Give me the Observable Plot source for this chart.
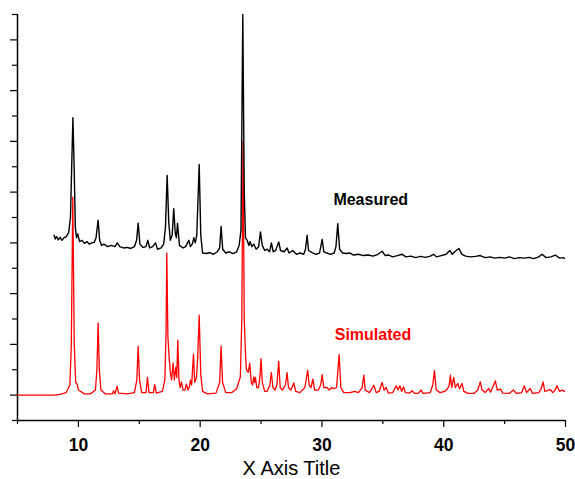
<!DOCTYPE html>
<html>
<head>
<meta charset="utf-8">
<script src="https://cdn.jsdelivr.net/npm/d3@7"></script>
<script src="https://cdn.jsdelivr.net/npm/@observablehq/plot@0.6"></script>
<style>
  html, body { margin: 0; padding: 0; background: #fff; }
  #chart svg { display: block; }
</style>
</head>
<body>
<div id="chart"></div>
<script>
// Measured pattern: vertices (2θ, intensity in arbitrary units, offset baseline)
const measuredX = [8.0,8.1,8.2,8.35,8.5,8.65,8.8,9.0,9.2,9.35,9.45,9.55,9.65,9.75,9.85,9.95,10.1,10.3,10.5,10.7,10.9,11.1,11.3,11.45,11.62,11.75,11.9,12.1,12.4,12.7,13.0,13.2,13.4,13.7,14.0,14.3,14.6,14.78,14.91,15.05,15.3,15.55,15.7,15.85,16.1,16.33,16.5,16.8,17.0,17.15,17.29,17.42,17.55,17.7,17.83,17.95,18.05,18.14,18.3,18.6,18.8,19.07,19.2,19.35,19.48,19.6,19.72,19.92,20.05,20.2,20.5,20.8,21.1,21.4,21.6,21.72,21.85,22.1,22.4,22.7,23.0,23.2,23.35,23.5,23.62,23.72,23.86,24.0,24.1,24.25,24.4,24.6,24.8,24.95,25.1,25.3,25.5,25.7,25.85,26.0,26.2,26.45,26.6,26.9,27.14,27.3,27.6,27.9,28.2,28.5,28.65,28.78,28.9,29.2,29.5,29.8,30.02,30.15,30.4,30.7,31.0,31.15,31.3,31.45,31.7,32.0,32.3,32.6,33.0,33.4,33.8,34.2,34.6,34.94,35.2,35.5,35.8,36.2,36.58,36.9,37.3,37.7,38.1,38.5,38.9,39.16,39.4,39.8,40.2,40.5,40.7,40.9,41.24,41.5,41.8,42.2,42.6,43.0,43.4,43.8,44.2,44.6,45.0,45.4,45.8,46.2,46.6,47.0,47.4,47.8,48.08,48.4,48.8,49.17,49.5,49.8,50.0];
const measuredY = [6.3,6.15,6.25,6.12,6.22,6.1,6.2,6.25,6.4,7.0,9.0,10.93,9.0,6.6,6.2,6.35,6.05,6.1,5.98,6.05,5.95,6.0,6.02,6.2,6.89,6.1,5.9,5.95,5.85,5.9,5.85,6.0,5.85,5.8,5.82,5.78,5.85,6.1,6.78,5.95,5.82,5.85,6.1,5.8,5.85,6.0,5.75,5.8,5.95,6.6,8.66,6.8,6.1,6.3,7.35,6.4,6.2,6.78,5.9,5.8,5.85,6.1,5.85,5.95,6.2,6.0,6.3,9.09,6.3,5.6,5.58,5.62,5.55,5.65,5.8,6.65,5.75,5.6,5.65,5.58,5.65,5.9,6.5,15.0,8.0,6.2,6.1,5.9,6.05,5.85,5.95,5.75,5.85,6.43,5.9,5.7,5.75,5.65,6.0,5.65,5.7,6.04,5.7,5.65,5.8,5.6,5.7,5.55,5.6,5.55,5.75,6.3,5.7,5.62,5.55,5.6,6.14,5.65,5.6,5.55,5.6,5.85,6.76,5.75,5.6,5.58,5.6,5.52,5.55,5.5,5.52,5.48,5.55,5.67,5.5,5.52,5.45,5.5,5.55,5.45,5.48,5.42,5.47,5.43,5.48,5.55,5.45,5.5,5.55,5.7,5.55,5.65,5.78,5.55,5.48,5.45,5.47,5.5,5.42,5.45,5.4,5.43,5.4,5.45,5.38,5.42,5.4,5.43,5.38,5.45,5.55,5.42,5.45,5.52,5.4,5.42,5.38];

// Simulated pattern: vertices (2θ, intensity)
const simulatedX = [5,8.0,8.5,9.0,9.3,9.42,9.54,9.66,9.78,9.9,10.0,10.5,11.0,11.4,11.52,11.62,11.72,11.85,12.2,12.8,12.9,13.0,13.18,13.3,14.0,14.6,14.8,14.91,15.02,15.2,15.55,15.67,15.8,16.15,16.27,16.4,16.9,17.1,17.2,17.26,17.35,17.45,17.55,17.65,17.78,17.88,18.0,18.08,18.16,18.26,18.35,18.46,18.6,18.75,18.87,19.0,19.1,19.2,19.3,19.45,19.55,19.7,19.8,19.92,20.05,20.2,20.6,21.3,21.6,21.72,21.84,22.1,22.6,23.0,23.3,23.42,23.52,23.62,23.72,23.8,23.95,24.07,24.2,24.3,24.4,24.47,24.54,24.65,24.8,24.92,25.0,25.1,25.3,25.5,25.72,25.85,25.97,26.15,26.3,26.45,26.57,26.75,27.0,27.14,27.25,27.45,27.69,27.85,28.2,28.6,28.83,28.95,29.1,29.25,29.4,29.7,29.9,30.02,30.15,30.4,30.6,30.8,31.0,31.2,31.41,31.55,31.8,32.3,32.7,33.0,33.3,33.44,33.55,33.9,34.26,34.45,34.7,34.94,35.1,35.27,35.45,35.8,36.1,36.25,36.4,36.55,36.7,36.85,37.2,37.4,37.6,37.9,38.14,38.3,38.9,39.1,39.24,39.38,39.7,40.1,40.33,40.45,40.55,40.65,40.82,40.95,41.15,41.3,41.5,41.65,42.0,42.5,42.8,43.0,43.15,43.4,43.69,43.85,44.24,44.4,44.65,44.85,45.4,45.74,45.95,46.4,46.62,46.8,47.1,47.3,47.8,48.0,48.16,48.3,48.76,48.95,49.15,49.3,49.5,49.7,50.0];
const simulatedY = [0,0,0.03,0.1,0.4,2.0,7.8,2.0,0.5,0.43,0.2,0.05,0.05,0.2,1.0,2.85,1.0,0.2,0.05,0.05,0.17,0.05,0.35,0.08,0.05,0.1,0.6,1.93,0.6,0.1,0.1,0.7,0.1,0.1,0.41,0.08,0.15,0.6,2.5,5.6,2.3,1.5,0.9,0.6,1.27,0.6,1.1,0.7,2.17,0.6,0.3,0.52,0.2,0.2,0.43,0.2,0.3,0.59,0.4,1.61,0.5,0.7,1.5,3.15,0.8,0.15,0.05,0.08,0.5,1.93,0.5,0.1,0.1,0.25,0.72,3.0,10.0,3.0,1.64,1.0,0.9,1.25,0.5,0.4,0.72,0.5,0.7,0.3,0.3,0.8,1.44,0.5,0.15,0.15,0.4,0.89,0.3,0.2,0.4,1.34,0.3,0.2,0.4,0.89,0.3,0.2,0.48,0.15,0.1,0.3,0.98,0.4,0.3,0.63,0.2,0.2,0.4,0.81,0.3,0.3,0.2,0.3,0.25,0.3,1.6,0.3,0.1,0.1,0.15,0.1,0.3,0.79,0.2,0.1,0.39,0.1,0.15,0.5,0.2,0.3,0.08,0.1,0.37,0.2,0.37,0.15,0.33,0.1,0.08,0.17,0.07,0.07,0.2,0.07,0.1,0.4,0.96,0.2,0.1,0.15,0.26,0.4,0.79,0.3,0.7,0.3,0.46,0.25,0.46,0.15,0.07,0.07,0.2,0.52,0.2,0.1,0.26,0.12,0.56,0.2,0.24,0.08,0.07,0.2,0.07,0.1,0.37,0.1,0.26,0.07,0.1,0.25,0.52,0.15,0.22,0.1,0.2,0.37,0.15,0.2,0.13];

const xMajorTicks = [10, 20, 30, 40, 50];
const xMinorTicks = [5, 15, 25, 35, 45];
const yMajorTicks = [0, 2, 4, 6, 8, 10, 12, 14];
const yMinorTicks = [-1, 1, 3, 5, 7, 9, 11, 13, 15];
const seriesLabels = [
  {name: "Measured", x: 30.94, y: 7.68, color: "#000000"},
  {name: "Simulated", x: 31.05, y: 2.36, color: "#ff0000"}
];
const xAxisTitle = "X Axis Title";

const measured = measuredX.map((x, i) => ({x, y: measuredY[i]}));
const simulated = simulatedX.map((x, i) => ({x, y: simulatedY[i]}));

const font = "'Liberation Sans', Arial, Helvetica, sans-serif";

const chart = Plot.plot({
  width: 575,
  height: 479,
  marginLeft: 17,
  marginRight: 10,
  marginTop: 14,
  marginBottom: 59,
  style: {fontFamily: font, background: "#fff", color: "#000"},
  x: {domain: [5, 50]},
  y: {domain: [-1, 15]},
  marks: [
    Plot.axisX({ticks: xMinorTicks, tickSize: 4, tickFormat: () => "", label: null, stroke: "#000", strokeWidth: 1.2}),
    Plot.axisX({ticks: xMajorTicks, tickSize: 7, tickPadding: 11, label: null, fontSize: 17.5, fontWeight: "bold", stroke: "#000", strokeWidth: 1.2, fill: "#000"}),
    Plot.axisY({ticks: yMinorTicks, tickSize: 5, tickFormat: () => "", label: null, stroke: "#000", strokeWidth: 1.2}),
    Plot.axisY({ticks: yMajorTicks, tickSize: 7, tickFormat: () => "", label: null, stroke: "#000", strokeWidth: 1.2}),
    Plot.ruleX([5], {stroke: "#000", strokeWidth: 1.5}),
    Plot.ruleY([-1], {stroke: "#000", strokeWidth: 1.5}),
    Plot.line(simulated, {x: "x", y: "y", stroke: "#ff0000", strokeWidth: 1.3, clip: true}),
    Plot.line(measured, {x: "x", y: "y", stroke: "#000", strokeWidth: 1.4, clip: true}),
    Plot.text(seriesLabels, {x: "x", y: "y", text: "name", fill: "color", textAnchor: "start", lineAnchor: "middle", fontSize: 16, fontWeight: "bold"}),
    Plot.text([xAxisTitle], {frameAnchor: "bottom", text: d => d, dy: 48, lineAnchor: "middle", fontSize: 20, fill: "#000"})
  ]
});

document.getElementById("chart").appendChild(chart);
</script>
</body>
</html>
